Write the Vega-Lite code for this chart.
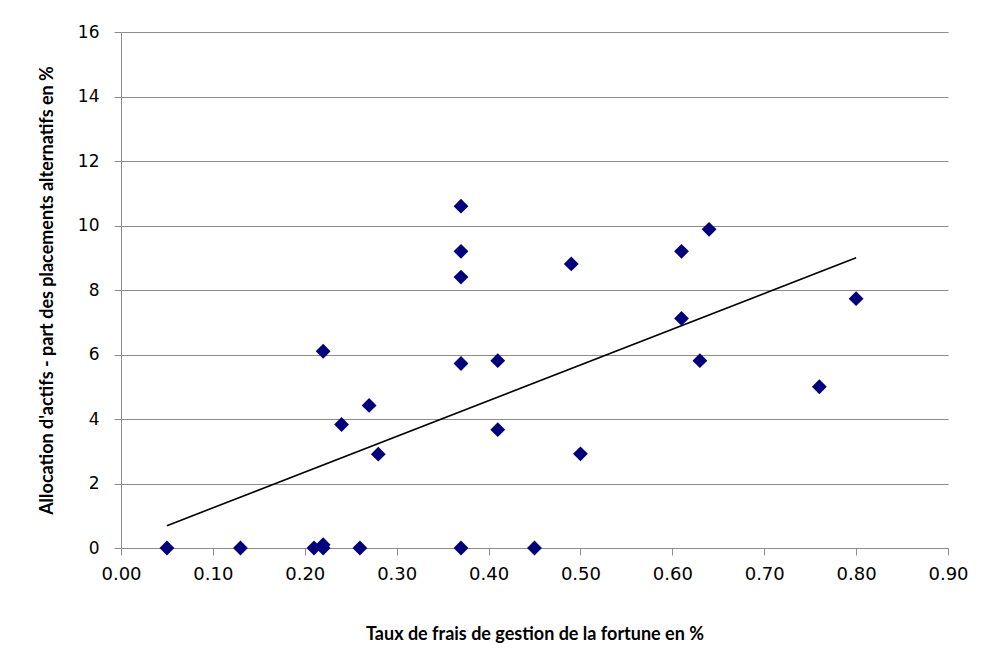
{
  "$schema": "https://vega.github.io/schema/vega-lite/v6.json",
  "width": 827,
  "height": 516,
  "autosize": "none",
  "padding": {"left": 121, "top": 32, "right": 41, "bottom": 105},
  "background": "white",
  "config": {
    "view": {"stroke": null},
    "axis": {
      "labelFont": "DejaVu Sans",
      "labelFontSize": 17,
      "labelColor": "#000000",
      "labelFlush": false,
      "labelOverlap": false,
      "titleFont": "Lato",
      "titleFontWeight": "bold",
      "titleFontSize": 18,
      "titleColor": "#000000",
      "titleLimit": 2000,
      "domainColor": "#8c8c8c",
      "tickColor": "#8c8c8c",
      "gridColor": "#8c8c8c",
      "tickSize": 7
    }
  },
  "data": {
    "values": [
      {"frais": 0.05, "allocation": 0},
      {"frais": 0.13, "allocation": 0},
      {"frais": 0.21, "allocation": 0},
      {"frais": 0.22, "allocation": 0.1},
      {"frais": 0.22, "allocation": 0},
      {"frais": 0.26, "allocation": 0},
      {"frais": 0.37, "allocation": 0},
      {"frais": 0.45, "allocation": 0},
      {"frais": 0.22, "allocation": 6.1},
      {"frais": 0.24, "allocation": 3.83},
      {"frais": 0.27, "allocation": 4.42},
      {"frais": 0.28, "allocation": 2.91},
      {"frais": 0.37, "allocation": 10.6},
      {"frais": 0.37, "allocation": 9.2},
      {"frais": 0.37, "allocation": 8.4},
      {"frais": 0.37, "allocation": 5.72},
      {"frais": 0.41, "allocation": 5.81},
      {"frais": 0.41, "allocation": 3.67},
      {"frais": 0.49, "allocation": 8.81},
      {"frais": 0.50, "allocation": 2.92},
      {"frais": 0.61, "allocation": 9.2},
      {"frais": 0.61, "allocation": 7.12},
      {"frais": 0.63, "allocation": 5.81},
      {"frais": 0.64, "allocation": 9.88},
      {"frais": 0.76, "allocation": 5.0},
      {"frais": 0.80, "allocation": 7.73}
    ]
  },
  "layer": [
    {
      "mark": {"type": "point", "shape": "diamond", "filled": true, "color": "#000080", "size": 220, "opacity": 1},
      "encoding": {
        "x": {
          "field": "frais", "type": "quantitative",
          "scale": {"domain": [0, 0.9], "nice": false, "zero": false},
          "axis": {
            "title": "Taux de  frais de gestion de la fortune en %",
            "values": [0, 0.1, 0.2, 0.3, 0.4, 0.5, 0.6, 0.7, 0.8, 0.9],
            "format": ".2f",
            "grid": false,
            "labelFontSize": 18,
            "labelPadding": 10,
            "titlePadding": 42
          }
        },
        "y": {
          "field": "allocation", "type": "quantitative",
          "scale": {"domain": [0, 16], "nice": false},
          "axis": {
            "title": "Allocation d'actifs - part des placements alternatifs en %",
            "values": [0, 2, 4, 6, 8, 10, 12, 14, 16],
            "grid": true,
            "labelPadding": 15,
            "titlePadding": 21
          }
        }
      }
    },
    {
      "transform": [{"regression": "allocation", "on": "frais", "extent": [0.05, 0.8]}],
      "mark": {"type": "line", "color": "#000000", "strokeWidth": 1.6},
      "encoding": {
        "x": {"field": "frais", "type": "quantitative"},
        "y": {"field": "allocation", "type": "quantitative"}
      }
    }
  ]
}
